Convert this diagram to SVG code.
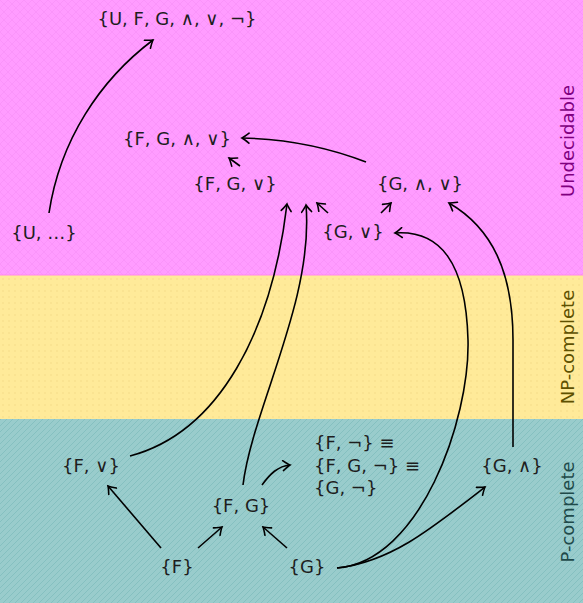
<svg xmlns="http://www.w3.org/2000/svg" width="583" height="603" viewBox="0 0 583 603">
<style>
.n{font-family:"DejaVu Sans","Liberation Sans",sans-serif;font-size:18px;fill:#1e1e1e;text-anchor:middle;dominant-baseline:central}
.l{font-family:"DejaVu Sans","Liberation Sans",sans-serif;font-size:18px;text-anchor:middle;dominant-baseline:central}
.e{fill:none;stroke:#000;stroke-width:1.6;marker-end:url(#ah)}
</style>
<defs>
<marker id="ah" viewBox="-10 -6 12 12" refX="0" refY="0" markerWidth="12" markerHeight="12" markerUnits="userSpaceOnUse" orient="auto">
<path d="M-7,-5 Q-2,-1 0,0 Q-2,1 -7,5" fill="none" stroke="#000" stroke-width="1.6" stroke-linecap="round"/>
</marker>
<pattern id="pk" width="8" height="8" patternUnits="userSpaceOnUse">
<rect width="8" height="8" fill="#ff9cff"/>
<path d="M0,0 L8,8 M8,0 L0,8" stroke="#f78ff7" stroke-width="0.6"/>
</pattern>
<pattern id="yl" width="6" height="6" patternUnits="userSpaceOnUse">
<rect width="6" height="6" fill="#ffea99"/>
<circle cx="3" cy="3" r="0.8" fill="#f5dc88"/>
</pattern>
<pattern id="tl" width="6" height="6" patternUnits="userSpaceOnUse">
<rect width="6" height="6" fill="#99cccc"/>
<path d="M-1,7 L7,-1 M-4,4 L4,-4 M2,10 L10,2" stroke="#80bcbc" stroke-width="0.8"/>
</pattern>
</defs>
<g id="bands">
<rect x="0" y="0" width="583" height="275" fill="url(#pk)"/>
<rect x="0" y="275" width="583" height="144" fill="url(#yl)"/>
<rect x="0" y="419" width="583" height="184" fill="url(#tl)"/>
<line x1="0" y1="275" x2="583" y2="275" stroke="#ff88ee" stroke-width="1"/>
<text class="l" fill="#800080" transform="translate(567,141) rotate(-90)">Undecidable</text>
<text class="l" fill="#5e5000" transform="translate(567,347) rotate(-90)">NP-complete</text>
<text class="l" fill="#1f4a4a" transform="translate(567,512) rotate(-90)">P-complete</text>
</g>
<g id="edges">
<path class="e" d="M49,213 C60,140 100,80 153,40"/>
<path class="e" d="M366,162 C330,148 290,139 242,138"/>
<path class="e" d="M240,166 L229,158"/>
<path class="e" d="M328,213 L317,203"/>
<path class="e" d="M381,213 L391,203"/>
<path class="e" d="M130,456 C220,432 272,330 287,204"/>
<path class="e" d="M243,485 C252,410 314,300 306,205"/>
<path class="e" d="M337,568 C420,562 470,420 468,340 C466,262 440,230 395,233"/>
<path class="e" d="M337,568 C390,562 430,530 485,487"/>
<path class="e" d="M513,447 L513,340 C513,272 492,228 449,203"/>
<path class="e" d="M161,548 L108,486"/>
<path class="e" d="M198,548 L222,527"/>
<path class="e" d="M287,548 L263,527"/>
<path class="e" d="M262,485 C270,474 278,466 290,465"/>
</g>
<g id="n_all"><text class="n" x="177" y="18">{U, F, G, ∧, ∨, ¬}</text></g>
<g id="n_fgav"><text class="n" x="177" y="138">{F, G, ∧, ∨}</text></g>
<g id="n_fgv"><text class="n" x="235" y="183">{F, G, ∨}</text></g>
<g id="n_gav"><text class="n" x="420" y="183">{G, ∧, ∨}</text></g>
<g id="n_gv"><text class="n" x="353" y="231">{G, ∨}</text></g>
<g id="n_u"><text class="n" x="44" y="232">{U, …}</text></g>
<g id="n_fv"><text class="n" x="91" y="465">{F, ∨}</text></g>
<g id="n_fg"><text class="n" x="241" y="505">{F, G}</text></g>
<g id="n_neg">
<text class="n" style="text-anchor:start" x="314" y="442">{F, ¬} ≡</text>
<text class="n" style="text-anchor:start" x="314" y="465">{F, G, ¬} ≡</text>
<text class="n" style="text-anchor:start" x="314" y="487">{G, ¬}</text>
</g>
<g id="n_ga"><text class="n" x="512" y="465">{G, ∧}</text></g>
<g id="n_f"><text class="n" x="177" y="566">{F}</text></g>
<g id="n_g"><text class="n" x="307" y="566">{G}</text></g>
</svg>
